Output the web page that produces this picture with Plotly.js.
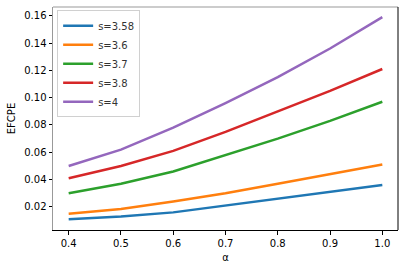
<!DOCTYPE html>
<html><head><meta charset="utf-8">
<script src="https://cdn.plot.ly/plotly-3.0.1.min.js"></script>
<style>html,body{margin:0;padding:0;background:#fff}#c{width:404px;height:270px}</style>
</head><body><div id="c"></div>
<script>
const alpha = [0.4, 0.5, 0.6, 0.7, 0.8, 0.9, 1.0];
const s358 = [0.011, 0.013, 0.016, 0.021, 0.026, 0.031, 0.036];
const s36  = [0.015, 0.0185, 0.024, 0.030, 0.037, 0.044, 0.051];
const s37  = [0.030, 0.037, 0.046, 0.058, 0.070, 0.083, 0.097];
const s38  = [0.041, 0.050, 0.061, 0.075, 0.090, 0.105, 0.121];
const s4   = [0.050, 0.062, 0.078, 0.096, 0.115, 0.136, 0.159];
const names = ['s=3.58', 's=3.6', 's=3.7', 's=3.8', 's=4'];
const series = [s358, s36, s37, s38, s4];
const colors = ['#1f77b4', '#ff7f0e', '#2ca02c', '#d62728', '#9467bd'];
const xTicks = [0.4, 0.5, 0.6, 0.7, 0.8, 0.9, 1.0];
const xTickText = ['0.4', '0.5', '0.6', '0.7', '0.8', '0.9', '1.0'];
const yTicks = [0.02, 0.04, 0.06, 0.08, 0.10, 0.12, 0.14, 0.16];
const yTickText = ['0.02', '0.04', '0.06', '0.08', '0.10', '0.12', '0.14', '0.16'];

const traces = series.map((ys, i) => ({
  x: alpha, y: ys, name: names[i], type: 'scatter', mode: 'lines',
  line: {color: colors[i], width: 2.5}
}));
const font = {family: 'DejaVu Sans', size: 10, color: '#000'};
const layout = {
  width: 404, height: 270,
  margin: {l: 53, r: 6, t: 7, b: 40},
  paper_bgcolor: '#fff', plot_bgcolor: '#fff',
  font: font,
  showlegend: true,
  legend: {x: 0.012, y: 0.985, xanchor: 'left', yanchor: 'top',
    bgcolor: 'rgba(255,255,255,0.8)', bordercolor: '#d0d0d0', borderwidth: 1,
    font: {family: 'DejaVu Sans', size: 10, color: '#333'}, tracegroupgap: 0, itemwidth: 30},
  xaxis: {range: [0.37, 1.03], tickvals: xTicks, ticktext: xTickText,
    showgrid: false, zeroline: false, showline: true, linecolor: '#000', linewidth: 1,
    ticks: 'outside', ticklen: 3.5, tickcolor: '#000', tickfont: font,
    title: {text: 'α', font: {family: 'DejaVu Sans', size: 10, color: '#000'}, standoff: 6}},
  yaxis: {range: [0.0031, 0.1664], tickvals: yTicks, ticktext: yTickText,
    showgrid: false, zeroline: false, showline: true, linecolor: '#999', linewidth: 1,
    ticks: 'outside', ticklen: 3.5, tickcolor: '#000', tickfont: font,
    title: {text: 'EFCPE', font: {family: 'DejaVu Sans', size: 10, color: '#000'}, standoff: 6}},
  shapes: [
    {type: 'line', xref: 'paper', yref: 'paper', x0: 0, x1: 1, y0: 1, y1: 1, line: {color: '#999', width: 1}},
    {type: 'line', xref: 'paper', yref: 'paper', x0: 1, x1: 1, y0: 0, y1: 1, line: {color: '#000', width: 1}}
  ]
};
Plotly.newPlot('c', traces, layout, {displayModeBar: false, staticPlot: true});
</script></body></html>
